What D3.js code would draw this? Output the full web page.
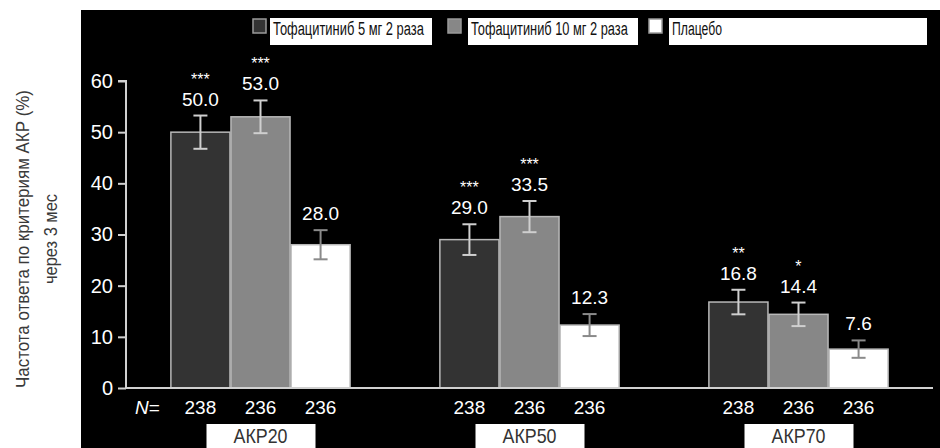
<!DOCTYPE html>
<html>
<head>
<meta charset="utf-8">
<script src="https://cdn.jsdelivr.net/npm/d3@7"></script>
<style>
  html, body { margin: 0; padding: 0; background: #fff; }
  svg { display: block; }
  text { font-family: "Liberation Sans", Arial, sans-serif; }
</style>
</head>
<body>
<svg id="chart" width="940" height="448"></svg>
<script>
// Response rates by criterion and treatment arm
const groups = ["АКР20", "АКР50", "АКР70"];
const series = ["Тофацитиниб 5 мг 2 раза", "Тофацитиниб 10 мг 2 раза", "Плацебо"];
const tofa5 = [50.0, 29.0, 16.8];
const tofa10 = [53.0, 33.5, 14.4];
const placebo = [28.0, 12.3, 7.6];
const err5 = [3.25, 3.0, 2.4];
const err10 = [3.2, 3.05, 2.3];
const errPlacebo = [2.85, 2.15, 1.7];
const stars5 = ["***", "***", "**"];
const stars10 = ["***", "***", "*"];
const starsPlacebo = ["", "", ""];
const nValues = [238, 236, 236];
const yTicks = [0, 10, 20, 30, 40, 50, 60];
const yTitle = ["Частота ответа по критериям АКР (%)", "через 3 мес"];

const values = [tofa5, tofa10, placebo];
const errs = [err5, err10, errPlacebo];
const stars = [stars5, stars10, starsPlacebo];
const fills = ["#333333", "#878787", "#ffffff"];

const svg = d3.select("#chart");

// squeeze a text horizontally to a given width (condensed look)
function condense(sel, width, anchor) {
  sel.each(function (d, i) {
    const t = d3.select(this);
    const w = typeof width === "function" ? width(d, i) : width;
    const natural = this.getComputedTextLength();
    const x = +t.attr("x"), yy = +t.attr("y");
    t.attr("x", 0).attr("y", 0)
      .attr("transform", `translate(${x},${yy}) scale(${w / natural},1)`);
  });
}

// dark panel behind the plot
svg.append("rect").attr("x", 81).attr("y", 10).attr("width", 859).attr("height", 438).attr("fill", "#000");

const y = d3.scaleLinear().domain([0, 60]).range([388, 81]);
const x0 = d3.scaleBand().domain(groups).range([126, 933]).paddingInner(0.33).paddingOuter(0.165);
const x1 = d3.scaleBand().domain(series).range([0, x0.bandwidth()]);

// y axis
const yAxis = svg.append("g").attr("transform", "translate(126,0)")
  .call(d3.axisLeft(y).tickValues(yTicks).tickSize(8).tickPadding(5).tickFormat(d3.format("d")));
yAxis.select(".domain").attr("stroke", "#d0d0d0").attr("stroke-width", 2).attr("d", "M-8,81H0V388");
yAxis.selectAll(".tick line").attr("stroke", "#d0d0d0").attr("stroke-width", 2);
yAxis.selectAll(".tick text").attr("fill", "#fff").attr("font-size", 20);

// bars
const rows = [];
groups.forEach((g, gi) => series.forEach((s, si) => rows.push({
  g, s, si, v: values[si][gi], e: errs[si][gi], star: stars[si][gi]
})));

const bar = svg.append("g").selectAll("g").data(rows).join("g")
  .attr("transform", d => `translate(${x0(d.g) + x1(d.s)},0)`);

bar.append("rect")
  .attr("x", 0.5)
  .attr("y", d => y(d.v))
  .attr("width", x1.bandwidth() - 1)
  .attr("height", d => y(0) - y(d.v))
  .attr("fill", d => fills[d.si])
  .attr("stroke", "#b8b8b8")
  .attr("stroke-width", 1.5);

// error bars
const cx = x1.bandwidth() / 2;
const eb = bar.append("g")
  .attr("stroke", d => d.si === 2 ? "#8a8a8a" : "#cfcfcf")
  .attr("stroke-width", 2);
eb.append("line").attr("x1", cx).attr("x2", cx).attr("y1", d => y(d.v + d.e)).attr("y2", d => y(d.v - d.e));
eb.append("line").attr("x1", cx - 7).attr("x2", cx + 7).attr("y1", d => y(d.v + d.e)).attr("y2", d => y(d.v + d.e));
eb.append("line").attr("x1", cx - 7).attr("x2", cx + 7).attr("y1", d => y(d.v - d.e)).attr("y2", d => y(d.v - d.e));

// value labels and significance marks
bar.append("text")
  .attr("x", cx).attr("y", d => y(d.v + d.e) - 10)
  .attr("text-anchor", "middle").attr("fill", "#fff").attr("font-size", 19)
  .text(d => d3.format(".1f")(d.v));
bar.append("text")
  .attr("x", cx).attr("y", d => y(d.v + d.e) - 31)
  .attr("text-anchor", "middle").attr("fill", "#fff").attr("font-size", 16)
  .text(d => d.star);

// x axis baseline
svg.append("line").attr("x1", 126).attr("x2", 933).attr("y1", y(0)).attr("y2", y(0))
  .attr("stroke", "#d0d0d0").attr("stroke-width", 2);

// N row
svg.append("text").attr("x", 135).attr("y", 414).attr("fill", "#fff").attr("font-size", 19)
  .attr("font-style", "italic").text("N")
  .append("tspan").attr("font-style", "normal").text("=");
bar.append("text")
  .attr("x", cx).attr("y", 414)
  .attr("text-anchor", "middle").attr("fill", "#fff").attr("font-size", 19)
  .text(d => nValues[d.si]);

// group labels in white boxes
const gl = svg.append("g").selectAll("g").data(groups).join("g")
  .attr("transform", g => `translate(${x0(g) + x0.bandwidth() / 2},0)`);
gl.append("rect").attr("x", -54).attr("y", 424).attr("width", 109).attr("height", 24).attr("fill", "#fff");
gl.append("text").attr("x", 0).attr("y", 443).attr("text-anchor", "middle")
  .attr("fill", "#333").attr("font-size", 20)
  .text(g => g)
  .call(condense, 54);

// legend
const legendBoxes = [
  { mx: 253, bx: 270, bw: 162, tw: 151 },
  { mx: 448, bx: 468, bw: 170, tw: 157 },
  { mx: 649, bx: 669, bw: 258, tw: 50 }
];
const lg = svg.append("g").selectAll("g").data(series).join("g");
lg.append("rect").attr("x", (d, i) => legendBoxes[i].bx).attr("y", 18)
  .attr("width", (d, i) => legendBoxes[i].bw).attr("height", 27).attr("fill", "#fff");
lg.append("rect").attr("x", (d, i) => legendBoxes[i].mx).attr("y", 19)
  .attr("width", 13).attr("height", 14)
  .attr("fill", (d, i) => fills[i]).attr("stroke", "#9a9a9a").attr("stroke-width", 1.5);
lg.append("text").attr("x", (d, i) => legendBoxes[i].bx + 3).attr("y", 35)
  .attr("fill", "#111").attr("font-size", 19)
  .text(d => d)
  .call(condense, (d, i) => legendBoxes[i].tw);

// y axis title
const yt = svg.append("g").attr("transform", "translate(0,239) rotate(-90)");
yt.append("text").attr("x", 0).attr("y", 29).attr("text-anchor", "middle")
  .attr("fill", "#3a3a3a").attr("font-size", 18)
  .text(yTitle[0])
  .call(condense, 298);
yt.append("text").attr("x", 0).attr("y", 57).attr("text-anchor", "middle")
  .attr("fill", "#3a3a3a").attr("font-size", 18)
  .text(yTitle[1])
  .call(condense, 90);
</script>
</body>
</html>
